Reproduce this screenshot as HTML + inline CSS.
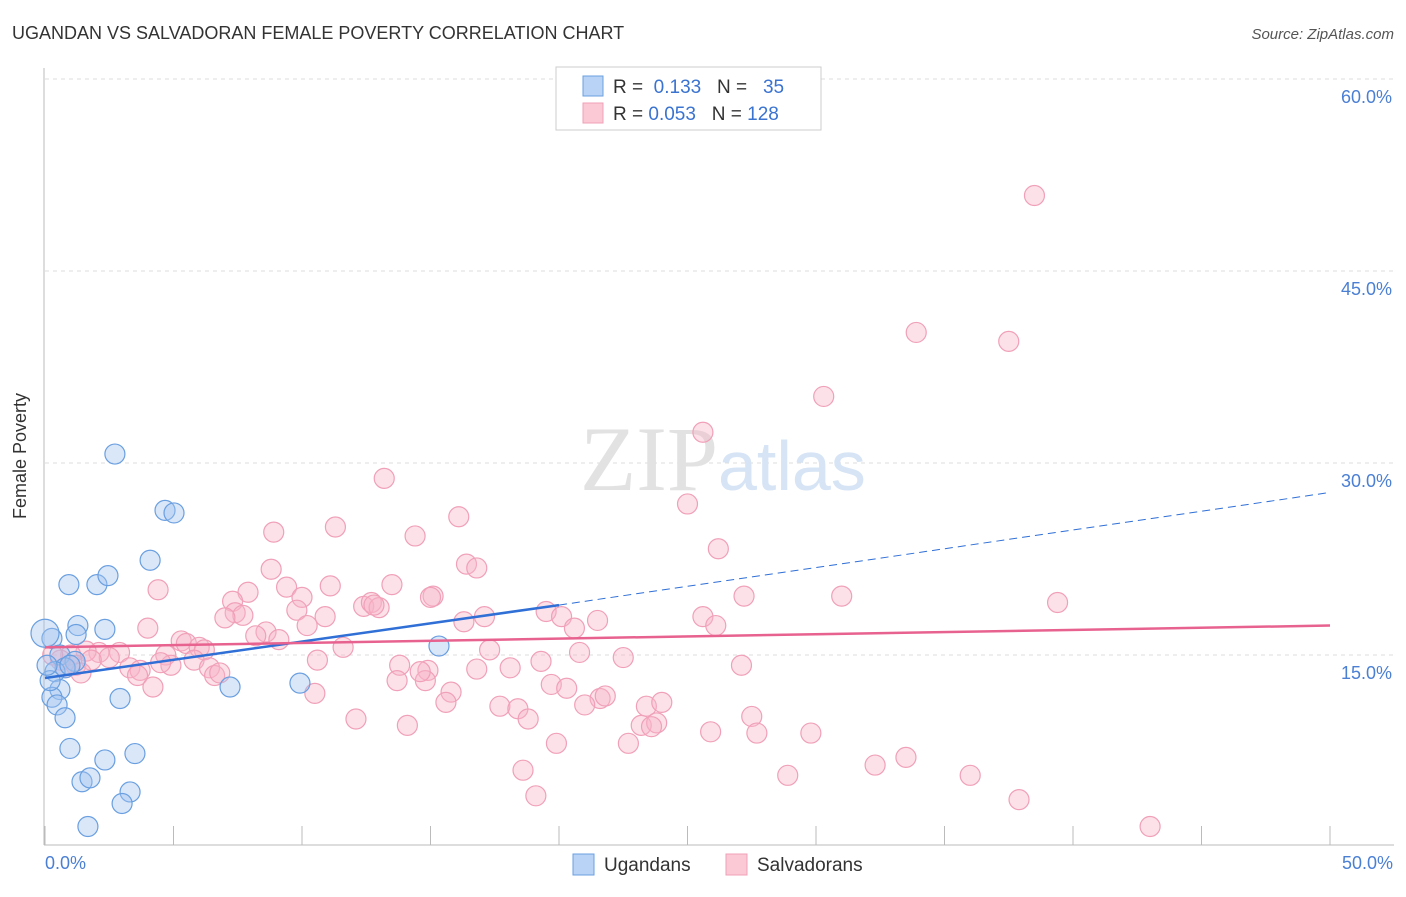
<!DOCTYPE html>
<html><head><meta charset="utf-8"><style>
body{margin:0;background:#fff;font-family:"Liberation Sans",sans-serif;}
svg text{font-family:"Liberation Sans",sans-serif;}
</style></head><body>
<svg width="1406" height="892">
<text x="12" y="39" font-size="18" fill="#333">UGANDAN VS SALVADORAN FEMALE POVERTY CORRELATION CHART</text>
<text x="1394" y="39" font-size="15" fill="#555" font-style="italic" text-anchor="end">Source: ZipAtlas.com</text>
<g id="grid"></g>
<text x="718" y="490" font-size="92" fill="#e2e2e2" text-anchor="end" style="font-family:'Liberation Serif',serif">ZIP</text>
<text x="718" y="490" font-size="70" fill="#d6e4f5">atlas</text>
<line x1="44" y1="68" x2="44" y2="845" stroke="#bbb"/>
<line x1="44" y1="845" x2="1394" y2="845" stroke="#bbb"/>
<g id="ticks"></g>
<g id="pts"></g>
<g id="lines"></g>
<text x="26" y="456" font-size="18" fill="#333" transform="rotate(-90 26 456)" text-anchor="middle">Female Poverty</text>
<text x="45" y="869" font-size="18" fill="#4a7fd4">0.0%</text>
<text x="1393" y="869" font-size="18" fill="#4a7fd4" text-anchor="end">50.0%</text>
<g>
<rect x="556" y="67" width="265" height="63" fill="#fff" stroke="#ccc"/>
<rect x="583" y="76" width="20" height="20" fill="#b8d3f5" stroke="#6a9fe0"/>
<rect x="583" y="103" width="20" height="20" fill="#fbc8d6" stroke="#f0a0b8"/>
<text x="613" y="93" font-size="19" fill="#333">R = <tspan fill="#3a73d0">&#160;0.133</tspan>&#160;&#160;&#160;N = <tspan fill="#3a73d0">&#160;&#160;35</tspan></text>
<text x="613" y="120" font-size="19" fill="#333">R = <tspan fill="#3a73d0">0.053</tspan>&#160;&#160;&#160;N = <tspan fill="#3a73d0">128</tspan></text>
</g>
<g>
<rect x="573" y="854" width="21" height="21" fill="#b8d3f5" stroke="#6a9fe0"/>
<text x="604" y="871" font-size="19" fill="#333">Ugandans</text>
<rect x="726" y="854" width="21" height="21" fill="#fbc8d6" stroke="#f0a0b8"/>
<text x="757" y="871" font-size="19" fill="#333">Salvadorans</text>
</g>
</svg>
<script>
const yTicks=[15,30,45,60];
const xTickVals=[0,5,10,15,20,25,30,35,40,45,50];
const blueX=[2.72,4.67,5.02,4.09,0.93,2.02,2.45,1.28,2.33,1.21,0.27,0,0.58,1.17,0.78,0.39,0.58,0.27,0.47,0.78,7.2,9.92,15.33,2.92,0.97,2.33,3.5,1.44,1.75,3.31,3.0,1.67,0.2,0.97,0.08];
const blueY=[30.7,26.3,26.1,22.4,20.5,20.5,21.2,17.3,17.0,16.6,16.3,16.7,15.0,14.5,14.0,13.7,12.3,11.7,11.1,10.1,12.5,12.8,15.7,11.6,7.7,6.8,7.3,5.1,5.4,4.3,3.4,1.6,13.0,14.2,14.2];
const pinkX=[38.5,33.9,37.5,30.3,25.6,13.2,25.0,8.9,11.3,16.1,14.4,26.2,16.4,16.8,8.8,4.4,7.9,9.4,7.3,10.0,11.1,13.5,15.1,15.0,27.2,31.0,39.4,9.8,7.4,7.7,10.9,12.4,12.7,13.0,19.5,20.1,21.5,25.6,16.3,17.1,20.6,26.1,4.0,8.6,8.2,9.1,10.2,5.3,5.5,6.0,6.2,7.0,11.6,17.3,2.9,2.1,1.6,2.5,1.0,0.6,0.3,1.2,0.8,1.8,3.3,3.7,4.7,4.9,5.8,6.4,6.6,6.8,1.4,3.6,10.6,13.8,14.9,20.8,19.3,22.5,27.1,16.8,18.1,13.7,14.8,19.7,20.3,4.2,21.6,21.8,15.8,10.5,15.6,17.7,18.4,21.0,23.4,24.0,18.8,12.1,14.1,23.2,23.8,23.6,27.5,27.7,25.9,29.8,19.9,22.7,18.6,28.9,32.3,33.5,36.0,37.9,19.1,43.0,12.8,14.6,4.5];
const pinkY=[50.9,40.2,39.5,35.2,32.4,28.8,26.8,24.6,25.0,25.8,24.3,23.3,22.1,21.8,21.7,20.1,19.9,20.3,19.2,19.5,20.4,20.5,19.6,19.5,19.6,19.6,19.1,18.5,18.3,18.1,18.0,18.8,19.1,18.7,18.4,18.0,17.7,18.0,17.6,18.0,17.1,17.3,17.1,16.8,16.5,16.2,17.3,16.1,15.9,15.6,15.4,17.9,15.6,15.4,15.2,15.2,15.3,14.8,15.0,14.6,15.0,14.2,14.0,14.6,14.0,13.8,15.0,14.2,14.6,14.0,13.4,13.6,13.6,13.4,14.6,14.2,13.8,15.2,14.5,14.8,14.2,13.9,14.0,13.0,13.0,12.7,12.4,12.5,11.6,11.8,12.1,12.0,11.3,11.0,10.8,11.1,11.0,11.3,10.0,10.0,9.5,9.5,9.7,9.4,10.2,8.9,9.0,8.9,8.1,8.1,6.0,5.6,6.4,7.0,5.6,3.7,4.0,1.6,18.9,13.7,14.4];
const blueLine=[[0,13.2],[20,18.9],[50,27.7]];
const pinkLine=[[0,15.6],[50,17.3]];
const X=v=>45+v/50*1285, Y=v=>847-v/15*192;
const NS='http://www.w3.org/2000/svg';
function mk(t,a,p){const e=document.createElementNS(NS,t);for(const k in a)e.setAttribute(k,a[k]);document.getElementById(p).appendChild(e);return e;}
yTicks.forEach(t=>{
 const l=mk('line',{x1:45,x2:1394,y1:Y(t),y2:Y(t),stroke:'#ddd','stroke-dasharray':'4,4'},'grid');
 
 
 const tx=mk('text',{x:1392,y:Y(t)+24,'font-size':18,fill:'#4a7fd4','text-anchor':'end'},'grid');
 tx.textContent=t.toFixed(1)+'%';
 
 
});
xTickVals.forEach(t=>{
 const l=mk('line',{x1:X(t),x2:X(t),y1:826,y2:845,stroke:'#bbb'},'ticks');
 
 
});
pinkX.forEach((x,i)=>{
 const c=mk('circle',{cx:X(x),cy:Y(pinkY[i]),r:10,fill:'rgba(248,180,200,0.4)',stroke:'#f0a0b8','stroke-width':1.2},'pts');
 
 
});
blueX.forEach((x,i)=>{
 const c=mk('circle',{cx:X(x),cy:Y(blueY[i]),r:i==11?14:10,fill:'rgba(160,196,240,0.4)',stroke:'#6a9fe0','stroke-width':1.2},'pts');
 
 
});
let b1=mk('line',{x1:X(blueLine[0][0]),y1:Y(blueLine[0][1]),x2:X(blueLine[1][0]),y2:Y(blueLine[1][1]),stroke:'#2f6fd6','stroke-width':2.5},'lines');


let b2=mk('line',{x1:X(blueLine[1][0]),y1:Y(blueLine[1][1]),x2:X(blueLine[2][0]),y2:Y(blueLine[2][1]),stroke:'#2f6fd6','stroke-width':1,'stroke-dasharray':'8,5'},'lines');


let p1=mk('line',{x1:X(pinkLine[0][0]),y1:Y(pinkLine[0][1]),x2:X(pinkLine[1][0]),y2:Y(pinkLine[1][1]),stroke:'#e8628f','stroke-width':2.5},'lines');


</script>
</body></html>
